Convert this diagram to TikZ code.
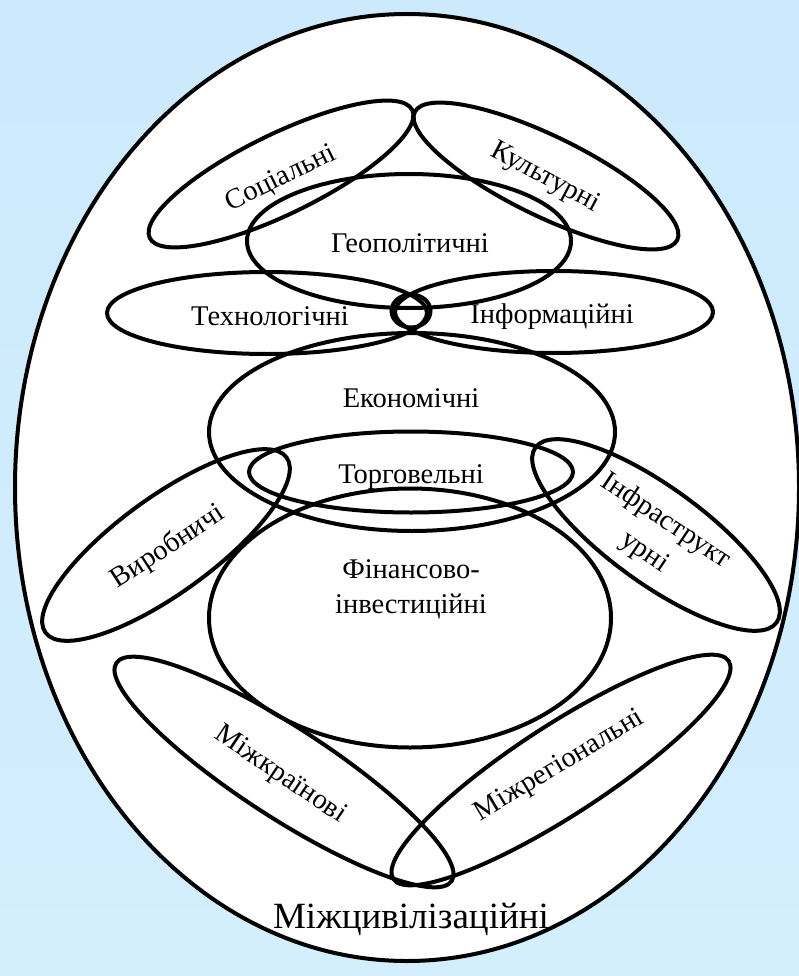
\documentclass[tikz,border=0pt]{standalone}
\usepackage{fontspec}
\setmainfont{Liberation Serif}
\usetikzlibrary{shapes.geometric}

\definecolor{skytop}{HTML}{CCEAFC}
\definecolor{skybottom}{HTML}{D3EEFD}

\tikzset{
  field/.style={ellipse, draw, line width=4pt, inner sep=0pt, outer sep=0pt},
  lbl/.style={inner sep=0pt, align=center, font=\rmfamily\fontsize{28.5}{38}\selectfont},
}

\begin{document}
\begin{tikzpicture}[x=1pt, y=-1pt]
	\useasboundingbox (0,0) rectangle (799,976);
	\shade[top color=skytop, bottom color=skybottom] (0,0) rectangle (799,976);
	
	% outer field
	\node[field, fill=white, minimum width=784, minimum height=947] (civ) at (407,487.5) {};
	\node[lbl, anchor=base, font=\rmfamily\fontsize{37}{42}\selectfont] (civlbl) at (411,928) {Міжцивілізаційні};
	
	% top
	\node[field, minimum width=292, minimum height=80, rotate=26] (soc) at (281,174) {};
	\node[field, minimum width=292, minimum height=80, rotate=-26] (cult) at (546,176) {};
	\node[field, minimum width=324, minimum height=134] (geo) at (409,241) {};
	\node[field, minimum width=320, minimum height=82] (tech) at (267,313) {};
	\node[field, minimum width=318, minimum height=82] (info) at (554,312) {};
	\node[field, minimum width=39, minimum height=33] (knot) at (411,311) {};
	
	% middle
	\node[field, minimum width=406, minimum height=198] (econ) at (412,432) {};
	\node[field, minimum width=324, minimum height=81] (trade) at (411,472) {};
	\node[field, minimum width=298, minimum height=96, rotate=36] (prod) at (166,545) {};
	\node[field, minimum width=298, minimum height=96, rotate=-36] (infra) at (656,535) {};
	\node[field, minimum width=402, minimum height=259] (fin) at (410,618) {};
	
	% bottom
	\node[field, minimum width=400, minimum height=90, rotate=-33] (country) at (284,772) {};
	\node[field, minimum width=400, minimum height=90, rotate=33] (region) at (561,770) {};
	
	% labels
	\node[lbl, rotate=26] (soclbl) at (281,179) {Соціальні};
	\node[lbl, rotate=-28] (cultlbl) at (545,178) {Культурні};
	\node[lbl, anchor=base] (geolbl) at (410,252) {Геополітичні};
	\node[lbl, anchor=base] (techlbl) at (270,325) {Технологічні};
	\node[lbl, anchor=base] (infolbl) at (552,323) {Інформаційні};
	\node[lbl, anchor=base] (econlbl) at (411,407) {Економічні};
	\node[lbl, anchor=base] (tradelbl) at (411,483) {Торговельні};
	\node[lbl, rotate=33] (prodlbl) at (168,547) {Виробничі};
	\node[lbl, rotate=-34] (infralbl) at (655,537) {Інфраструкт\\урні};
	\node[lbl, anchor=base, font=\rmfamily\fontsize{28.5}{35}\selectfont] (finlbl) at (411,613) {Фінансово-\\інвестиційні};
	\node[lbl, rotate=-34] (countrylbl) at (280,775) {Міжкраїнові};
	\node[lbl, rotate=31] (regionlbl) at (560,766) {Міжрегіональні};
	
\end{tikzpicture}
\end{document}
